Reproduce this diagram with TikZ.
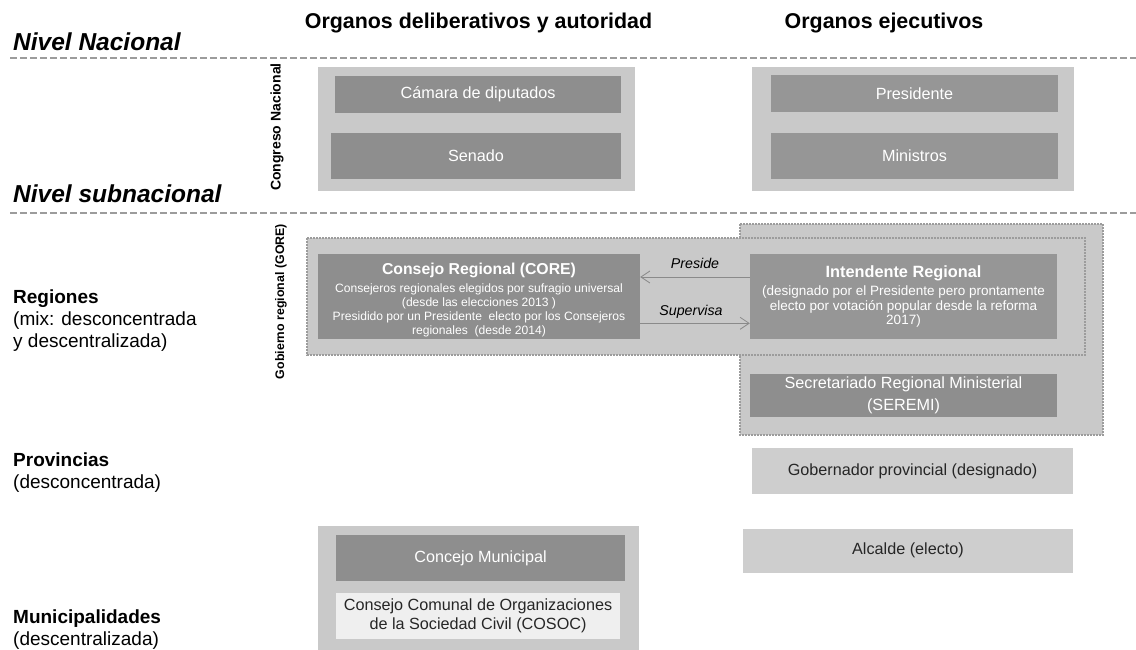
\documentclass[tikz,border=0pt]{standalone}
\usepackage{fontspec}
\setmainfont{Liberation Sans}
\usetikzlibrary{arrows.meta}
\definecolor{darkbox}{HTML}{8E8E8E}
\definecolor{darkboxb}{HTML}{969696}
\definecolor{lightbox}{HTML}{C9C9C9}
\definecolor{lighterbox}{HTML}{CECECE}
\definecolor{palebox}{HTML}{EFEFEF}
\definecolor{dashgray}{HTML}{9C9C9C}
\definecolor{arrgray}{HTML}{8A8A8A}
\begin{document}
\begin{tikzpicture}[x=1pt,y=-1pt,
  fs/.style={font={\pgfmathsetlengthmacro\fsb{#1*1.2}\fontsize{#1}{\fsb}\selectfont}},
  outerbox/.style={draw=none,fill=lightbox,inner sep=0pt},
  darkrect/.style={draw=none,fill=darkbox,inner sep=0pt,text=white,align=center},
  lightrect/.style={draw=none,fill=lighterbox,inner sep=0pt,text=black!85,align=center},
  palerect/.style={draw=none,fill=palebox,inner sep=0pt,text=black!85,align=center},
  sepline/.style={draw=dashgray,line width=1.4pt,dash pattern=on 7pt off 3pt},
  dotbox/.style={draw=dashgray,fill=lightbox,line width=1.6pt,dash pattern=on 1.6pt off 1.4pt},
  arr/.style={draw=arrgray,line width=0.8pt,-{Straight Barb[length=9pt,width=12pt]}},
  lvl/.style={anchor=west,inner sep=0pt,font=\fontsize{24.5}{28}\selectfont\bfseries\itshape},
  head/.style={font=\fontsize{21.4}{25}\selectfont\bfseries},
  side/.style={anchor=north west,inner sep=0pt,align=left,font=\fontsize{19}{22}\selectfont},
  vlab/.style={rotate=90,inner sep=0pt},
  itlab/.style={font=\fontsize{14.2}{17}\selectfont\itshape}
]
\useasboundingbox (0,0) rectangle (1136,650);
\fill[white] (0,0) rectangle (1136,650);

% headings
\node[head] (hdel) at (478.5,23) {Organos deliberativos y autoridad};
\node[head] (hexe) at (884,23) {Organos ejecutivos};
\node[lvl] (nnac) at (13,42) {Nivel Nacional};
\node[lvl] (nsub) at (13,194) {Nivel subnacional};
\coordinate (l1a) at (10,58);
\coordinate (l1b) at (1136,58);
\coordinate (l2a) at (10,213);
\coordinate (l2b) at (1136,213);
\draw[sepline] (l1a) -- (l1b);
\draw[sepline] (l2a) -- (l2b);

% national level
\node[outerbox,minimum width=317pt,minimum height=124pt] (congreso) at (476.5,129) {};
\node[darkrect,minimum width=286pt,minimum height=37pt,fs=16.2] (camara) at (478,94.5) {Cámara de diputados};
\node[darkrect,minimum width=290pt,minimum height=46pt,fs=16.2] (senado) at (476,156) {Senado};
\node[vlab,font=\fontsize{14}{16}\selectfont\bfseries] (vcong) at (277,127) {Congreso Nacional};

\node[outerbox,minimum width=322pt,minimum height=124pt] (ejec) at (913,129) {};
\node[darkrect,fill=darkboxb,minimum width=287pt,minimum height=37pt,fs=16.2] (pres) at (914.5,93.5) {Presidente};
\node[darkrect,fill=darkboxb,minimum width=287pt,minimum height=46pt,fs=16.2] (mins) at (914.5,156) {Ministros};

% regional level
\draw[dotbox] (740,224) rectangle (1103,435);
\draw[dotbox] (307,238) rectangle (1085,355);
\node[vlab,font=\fontsize{12.4}{14}\selectfont\bfseries] (vgore) at (281,301.5) {Gobierno regional (GORE)};

\node[darkrect,minimum width=322pt,minimum height=85pt,font=\fontsize{12.1}{14}\selectfont] (core) at (479,296.5)
  {\rule{0pt}{18pt}{\fontsize{15.8}{14}\selectfont\bfseries Consejo Regional (CORE)}\\[4pt]
   Consejeros regionales elegidos por sufragio universal\\
   (desde las elecciones 2013 )\\
   Presidido por un Presidente\ \ electo por los Consejeros\\
   regionales\ \ (desde 2014)};
\node[darkrect,fill=darkboxb,minimum width=307pt,minimum height=85pt,font=\fontsize{13.5}{14.6}\selectfont] (intend) at (903.5,296.5)
  {{\fontsize{16.3}{14.6}\selectfont\bfseries Intendente Regional}\\[4pt]
   (designado por el Presidente pero prontamente\\
   electo por votación popular desde la reforma\\
   2017)};
\node[darkrect,minimum width=307pt,minimum height=43pt,font=\fontsize{16.2}{22}\selectfont] (seremi) at (903.5,395.5)
  {Secretariado Regional Ministerial\\(SEREMI)};

\draw[arr] ([yshift=19.5pt]intend.west) -- ([yshift=19.5pt]core.east);
\draw[arr] ([yshift=-26.8pt]core.east) -- ([yshift=-26.8pt]intend.west);
\node[itlab] (lpre) at (695,263) {Preside};
\node[itlab] (lsup) at (691,312) {Supervisa};

% provinces
\node[lightrect,minimum width=321pt,minimum height=46pt,fs=16.2] (gober) at (912.5,471) {Gobernador provincial (designado)};

% municipalities
\node[lightrect,minimum width=330pt,minimum height=44pt,fs=16.2,text depth=4pt] (alc) at (908,551) {Alcalde (electo)};
\node[outerbox,minimum width=321pt,minimum height=130pt] (muni) at (478.5,591) {};
\node[darkrect,minimum width=289pt,minimum height=46pt,fs=16.2] (conc) at (480.5,558) {Concejo Municipal};
\node[palerect,minimum width=284pt,minimum height=46pt,font=\fontsize{16.2}{19}\selectfont] (cosoc) at (478,616)
  {Consejo Comunal de Organizaciones\\de la Sociedad Civil (COSOC)};

% left labels
\node[side] (reg) at (13,290) {\textbf{Regiones}\\(mix: desconcentrada\\y descentralizada)};
\node[side] (prov) at (13,453) {\textbf{Provincias}\\(desconcentrada)};
\node[side] (mun) at (13,610) {\textbf{Municipalidades}\\(descentralizada)};
\end{tikzpicture}
\end{document}
